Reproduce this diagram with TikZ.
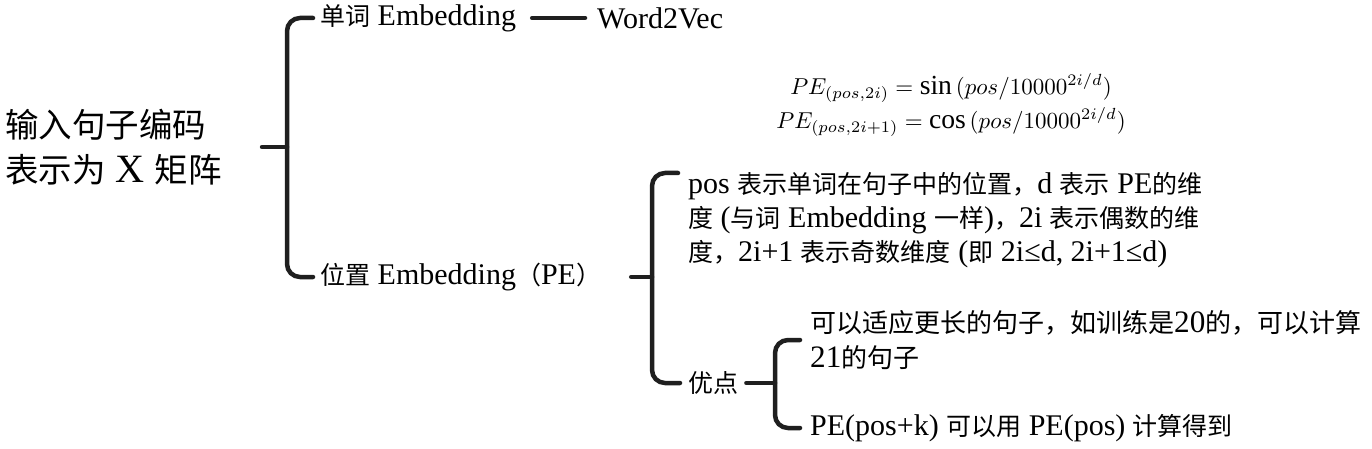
\documentclass[tikz,border=0pt]{standalone}
\usepackage{fontspec}
\setmainfont{Liberation Serif}[Scale=1.2]
\newfontfamily\cjk{Noto Sans CJK SC}

\begin{document}
\begin{tikzpicture}[x=1pt,y=-1pt, %% 1 unit = 1 pixel of the layout, y going down
    brace/.style={line width=4.5pt,color=black!88,rounded corners=13pt,line cap=round},
    topic/.style={anchor=west,inner sep=0pt,align=left,font=\fontsize{33.5}{45}\selectfont},
    sub/.style={anchor=west,inner sep=0pt,align=left,font=\fontsize{25}{34}\selectfont}]
    \useasboundingbox (0,0) rectangle (1372,449);%

    %% root and its two branches
    \node[topic] (root) at (5,147) {{\cjk 输入句子编码}\\{\cjk 表示为} X {\cjk 矩阵}};%
    \coordinate (j0) at (287,147);%
    \node[sub] (word) at (320,18) {{\cjk 单词} Embedding};%
    \node[sub] (w2v) at (597,18) {Word2Vec};%
    \node[sub] (pe) at (320,277) {{\cjk 位置} Embedding{\cjk （}PE{\cjk ）}};%
    \draw[brace,shorten <=40pt] (root.east) -- (j0);%
    \draw[brace,shorten <=7pt,shorten >=7pt] (word.west) -| (j0) |- (pe.west);%
    \draw[brace,shorten <=16pt,shorten >=12pt] (word) -- (w2v);%

    %% formula (math fonts only come in fixed sizes: scale the node)
    \node[inner sep=0pt,align=center,font=\fontsize{10}{14.8}\selectfont,scale=2.3,transform shape] (form) at (951,105)
    {$PE_{(pos,2i)}=\sin{(pos/10000^{2i/d})}$\\$PE_{(pos,2i+1)}=\cos{(pos/10000^{2i/d})}$};%

    %% position embedding
    \coordinate (j1) at (652,277);%
    \node[sub,anchor=north west] (desc) at (688,172)
    {pos {\cjk 表示单词在句子中的位置，}d {\cjk 表示} PE{\cjk 的维}\\
     {\cjk 度} ({\cjk 与词} Embedding {\cjk 一样}){\cjk ，}2i {\cjk 表示偶数的维}\\
     {\cjk 度，}2i+1 {\cjk 表示奇数维度} ({\cjk 即} 2i≤d, 2i+1≤d)};%
    \node[sub] (adv) at (688,383) {\cjk 优点};%
    \draw[brace,shorten <=30pt] (pe.east) -- (j1);%
    \draw[brace,shorten <=10pt,shorten >=8pt] ([yshift=-1pt]desc.north west) -| (j1) |- (adv.west);%

    %% advantages
    \coordinate (j2) at (775,383);%
    \node[sub,font=\fontsize{26}{35}\selectfont] (adv1) at (810,340) {{\cjk 可以适应更长的句子，如训练是}20{\cjk 的，可以计算}\\21{\cjk 的句子}};%
    \node[sub] (adv2) at (810,428) {PE(pos+k) {\cjk 可以用} PE(pos) {\cjk 计算得到}};%
    \draw[brace,shorten <=8pt] (adv.east) -- (j2);%
    \draw[brace,shorten <=10pt,shorten >=10pt] (adv1.west) -| (j2) |- (adv2.west);%
\end{tikzpicture}
\end{document}
